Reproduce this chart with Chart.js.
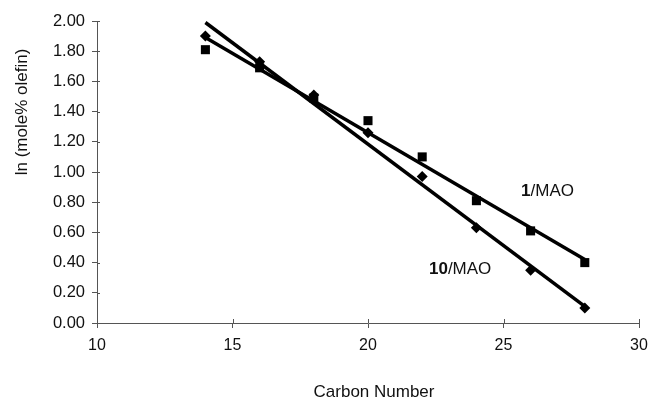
<!DOCTYPE html>
<html>
<head>
<meta charset="utf-8">
<script src="https://cdn.jsdelivr.net/npm/chart.js@4.4.1/dist/chart.umd.min.js"></script>
<style>
html,body{margin:0;padding:0;background:#fff;}
canvas{display:block;}
</style>
</head>
<body>
<canvas id="c" width="651" height="398"></canvas>
<script>
// ---- data ----
const carbonNumbers = [14, 16, 18, 20, 22, 24, 26, 28];
const mao1Values  = [1.81, 1.69, 1.49, 1.34, 1.10, 0.81, 0.61, 0.40];
const mao10Values = [1.90, 1.73, 1.51, 1.26, 0.97, 0.63, 0.35, 0.10];
const fitX      = [14, 28];
const fit1Line  = [1.89, 0.42];
const fit10Line = [1.99, 0.11];
const xTickValues = [10, 15, 20, 25, 30];
const yTickValues = [0, 0.2, 0.4, 0.6, 0.8, 1.0, 1.2, 1.4, 1.6, 1.8, 2.0];
const xAxisTitle = 'Carbon Number';
const yAxisTitle = 'ln (mole% olefin)';
const seriesLabels = [
  {bold: '1', rest: '/MAO', x: 25.65, y: 0.84},
  {bold: '10', rest: '/MAO', x: 22.25, y: 0.325}
];

const pts = (xs, ys) => xs.map((x, i) => ({x: x, y: ys[i]}));
const AXIS = '#555';
const INK = '#111';
const FONT = '"Liberation Sans", Arial, Helvetica, sans-serif';

const decor = {
  id: 'decor',
  afterDraw(chart) {
    const ctx = chart.ctx;
    const xs = chart.scales.x, ys = chart.scales.y;
    const a = chart.chartArea;
    ctx.save();
    // inner tick stubs (ticks cross the axes)
    ctx.strokeStyle = AXIS;
    ctx.lineWidth = 1;
    ctx.beginPath();
    xTickValues.forEach(v => {
      const px = Math.round(xs.getPixelForValue(v)) + 0.5;
      ctx.moveTo(px, a.bottom); ctx.lineTo(px, a.bottom - 4);
    });
    yTickValues.forEach(v => {
      const py = Math.round(ys.getPixelForValue(v)) + 0.5;
      ctx.moveTo(a.left, py); ctx.lineTo(a.left + 3, py);
    });
    ctx.stroke();
    // axis titles
    ctx.fillStyle = INK;
    ctx.font = '17px ' + FONT;
    ctx.textAlign = 'center';
    ctx.textBaseline = 'alphabetic';
    ctx.fillText(xAxisTitle, 374, 397);
    ctx.save();
    ctx.translate(27, 112);
    ctx.rotate(-Math.PI / 2);
    ctx.fillText(yAxisTitle, 0, 0);
    ctx.restore();
    // series labels, bold catalyst number
    ctx.textAlign = 'left';
    seriesLabels.forEach(l => {
      const px = xs.getPixelForValue(l.x);
      const py = ys.getPixelForValue(l.y);
      ctx.font = 'bold 17px ' + FONT;
      ctx.fillText(l.bold, px, py);
      const w = ctx.measureText(l.bold).width;
      ctx.font = '17px ' + FONT;
      ctx.fillText(l.rest, px + w, py);
    });
    ctx.restore();
  }
};

new Chart(document.getElementById('c'), {
  type: 'scatter',
  data: {
    datasets: [
      {label: '10/MAO fit', data: pts(fitX, fit10Line), showLine: true, borderColor: '#000', borderWidth: 3.5, pointRadius: 0, fill: false},
      {label: '1/MAO fit', data: pts(fitX, fit1Line), showLine: true, borderColor: '#000', borderWidth: 3.5, pointRadius: 0, fill: false},
      {label: '1/MAO', data: pts(carbonNumbers, mao1Values), pointStyle: 'rect', pointRadius: 6.4, backgroundColor: '#000', borderColor: '#000', borderWidth: 0},
      {label: '10/MAO', data: pts(carbonNumbers, mao10Values), pointStyle: 'rectRot', pointRadius: 5.5, backgroundColor: '#000', borderColor: '#000', borderWidth: 0}
    ]
  },
  options: {
    responsive: false,
    animation: false,
    devicePixelRatio: 1,
    layout: {padding: {top: 21, right: 12, left: 0, bottom: 0}},
    plugins: {legend: {display: false}, tooltip: {enabled: false}},
    scales: {
      x: {
        type: 'linear', min: 10, max: 30,
        afterBuildTicks: s => { s.ticks = xTickValues.map(v => ({value: v})); },
        afterFit: s => { s.height = 75; s.paddingLeft = 0; s.paddingRight = 0; },
        grid: {display: true, drawOnChartArea: false, drawTicks: true, tickLength: 5, color: AXIS},
        border: {display: true, color: AXIS, width: 1},
        ticks: {color: INK, padding: 8, maxRotation: 0, font: {size: 16, family: FONT}, callback: v => String(v)}
      },
      y: {
        type: 'linear', min: 0, max: 2,
        afterBuildTicks: s => { s.ticks = yTickValues.map(v => ({value: v})); },
        afterFit: s => { s.width = 97; s.paddingTop = 0; s.paddingBottom = 0; },
        grid: {display: true, drawOnChartArea: false, drawTicks: true, tickLength: 5, color: AXIS},
        border: {display: true, color: AXIS, width: 1},
        ticks: {color: INK, padding: 7, font: {size: 16.5, family: FONT}, callback: v => Number(v).toFixed(2)}
      }
    }
  },
  plugins: [decor]
});
</script>
</body>
</html>
